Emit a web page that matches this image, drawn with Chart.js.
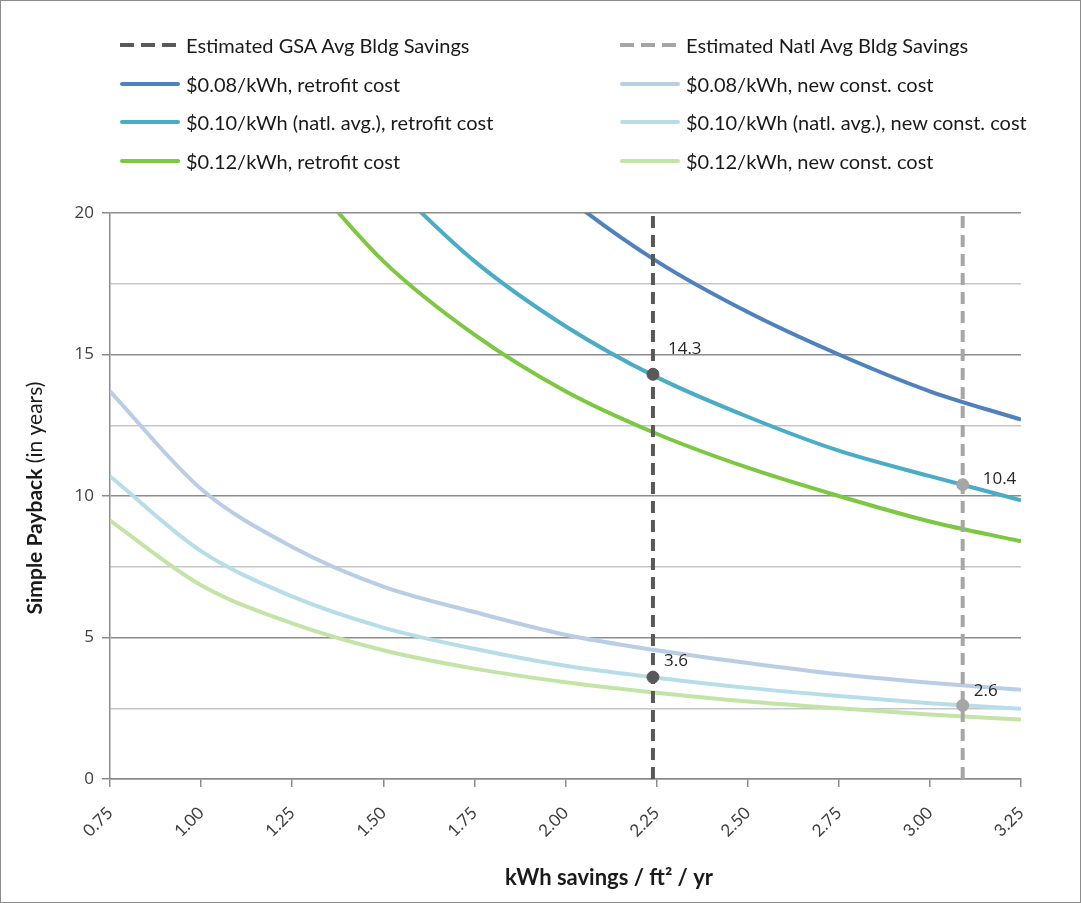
<!DOCTYPE html>
<html><head><meta charset="utf-8">
<script src="https://cdn.jsdelivr.net/npm/chart.js@4/dist/chart.umd.min.js"></script>
<style>
html,body{margin:0;padding:0;background:#fff;}
#wrap{position:relative;width:1081px;height:903px;}
#frame{position:absolute;left:0;top:0;width:1079px;height:901px;border:1px solid #8c8c8c;pointer-events:none;}
canvas{position:absolute;left:0;top:0;}
#legend{position:absolute;left:0;top:0;width:1081px;height:200px;font-family:Lato,"Liberation Sans",sans-serif;font-size:20px;color:#1a1a1a;}
.li{position:absolute;height:24px;line-height:24px;white-space:nowrap;}
.sw{position:absolute;left:0;top:10px;width:60px;height:4px;}
.tx{position:absolute;left:66px;top:0;}
</style></head>
<body>
<div id="wrap"><canvas id="c" width="1081" height="903"></canvas><div id="legend"></div><div id="frame"></div></div>
<script>
// ---- data ----
const kwh = [0.75, 1.00, 1.25, 1.50, 1.75, 2.00, 2.25, 2.50, 2.75, 3.00, 3.25];
const retrofit008 = [null, null, null, null, 23.5, 20.6, 18.3, 16.5, 15.0, 13.7, 12.7];
const retrofit010 = [null, null, null, 21.3, 18.3, 16.0, 14.2, 12.8, 11.6, 10.7, 9.85];
const retrofit012 = [null, null, 21.9, 18.3, 15.7, 13.7, 12.2, 11.0, 10.0, 9.1, 8.4];
const newConst008 = [13.7, 10.25, 8.2, 6.8, 5.9, 5.1, 4.55, 4.1, 3.7, 3.4, 3.15];
const newConst010 = [10.7, 8.05, 6.45, 5.35, 4.6, 4.0, 3.58, 3.22, 2.93, 2.68, 2.48];
const newConst012 = [9.13, 6.85, 5.5, 4.55, 3.9, 3.42, 3.05, 2.74, 2.5, 2.28, 2.1];
const gsaSavings = 2.24;
const natlSavings = 3.09;
const gsaPoints = [14.3, 3.6];
const natlPoints = [10.4, 2.6];
const yTickLabels = [0, 5, 10, 15, 20];
const seriesNames = [
  "Estimated GSA Avg Bldg Savings", "Estimated Natl Avg Bldg Savings",
  "$0.08/kWh, retrofit cost", "$0.08/kWh, new const. cost",
  "$0.10/kWh (natl. avg.), retrofit cost", "$0.10/kWh (natl. avg.), new const. cost",
  "$0.12/kWh, retrofit cost", "$0.12/kWh, new const. cost"
];
const xTitle = "kWh savings / ft\u00B2 / yr";
const yTitleBold = "Simple Payback";
const yTitleRest = " (in years)";

// ---- styles ----
const C = {
  gsa: "#595959", natl: "#a6a6a6",
  r08: "#4f81bd", n08: "#b9cde5",
  r10: "#4bacc6", n10: "#b7dee8",
  r12: "#7dc842", n12: "#c3e4a6"
};
const toXY = arr => kwh.map((x, i) => ({x: x, y: arr[i]})).filter(p => p.y !== null);
function curve(label, arr, color){
  return {type:'line', label, data: toXY(arr), borderColor: color, backgroundColor: color,
    borderWidth: 4, pointRadius: 0, cubicInterpolationMode: 'monotone', clip: 0, order: 5};
}
const datasets = [
  {type:'line', label: seriesNames[0], data:[{x:gsaSavings,y:0},{x:gsaSavings,y:20}], borderColor:C.gsa, borderWidth:4, borderDash:[12,7], pointRadius:0, order:2},
  {type:'line', label: seriesNames[1], data:[{x:natlSavings,y:0},{x:natlSavings,y:20}], borderColor:C.natl, borderWidth:4, borderDash:[12,7], pointRadius:0, order:2},
  curve(seriesNames[2], retrofit008, C.r08),
  curve(seriesNames[3], newConst008, C.n08),
  curve(seriesNames[4], retrofit010, C.r10),
  curve(seriesNames[5], newConst010, C.n10),
  curve(seriesNames[6], retrofit012, C.r12),
  curve(seriesNames[7], newConst012, C.n12),
  {type:'scatter', label:'gsaPts', data: gsaPoints.map(v=>({x:gsaSavings,y:v})), backgroundColor:C.gsa, borderColor:C.gsa, pointRadius:6, order:1},
  {type:'scatter', label:'natlPts', data: natlPoints.map(v=>({x:natlSavings,y:v})), backgroundColor:C.natl, borderColor:C.natl, pointRadius:6, order:1}
];

// HTML legend (2 columns)
const legendColors = [C.gsa, C.natl, C.r08, C.n08, C.r10, C.n10, C.r12, C.n12];
const lg = document.getElementById('legend');
seriesNames.forEach((name, i) => {
  const col = i % 2, row = Math.floor(i / 2);
  const d = document.createElement('div');
  d.className = 'li';
  d.style.left = (col ? 620 : 120) + 'px';
  d.style.top = (33 + row * 38.5) + 'px';
  const sw = document.createElement('div');
  sw.className = 'sw';
  if (i < 2) {
    sw.style.background = `repeating-linear-gradient(90deg, ${legendColors[i]} 0 14px, transparent 14px 21px)`;
  } else {
    sw.style.background = legendColors[i];
    sw.style.borderRadius = '2px';
  }
  const tx = document.createElement('span');
  tx.className = 'tx';
  tx.textContent = name;
  d.appendChild(sw); d.appendChild(tx);
  lg.appendChild(d);
});

const labelPlugin = {
  id: 'labels',
  afterDatasetsDraw(chart){
    const ctx = chart.ctx, xs = chart.scales.x, ys = chart.scales.y;
    ctx.save();
    ctx.font = '17px "Open Sans", "DejaVu Sans", sans-serif';
    ctx.fillStyle = '#262626';
    ctx.textBaseline = 'middle';
    ctx.textAlign = 'left';
    const offs = [[15,-25],[11,-16]];
    gsaPoints.forEach((v,i)=>{ ctx.fillText(v.toFixed(1), xs.getPixelForValue(gsaSavings)+offs[i][0], ys.getPixelForValue(v)+offs[i][1]); });
    const offs2 = [[20,-6],[11,-14]];
    natlPoints.forEach((v,i)=>{ ctx.fillText(v.toFixed(1), xs.getPixelForValue(natlSavings)+offs2[i][0], ys.getPixelForValue(v)+offs2[i][1]); });
    ctx.restore();
  },
  afterDraw(chart){
    const ctx = chart.ctx;
    ctx.save();
    ctx.fillStyle = '#1a1a1a';
    ctx.textBaseline = 'middle';
    const fb = 'bold 21px Lato, "Liberation Sans", sans-serif';
    const fr = '21px Lato, "Liberation Sans", sans-serif';
    ctx.font = fb; const wb = ctx.measureText(yTitleBold).width;
    ctx.font = fr; const wr = ctx.measureText(yTitleRest).width;
    ctx.translate(35, 498);
    ctx.rotate(-Math.PI/2);
    const start = -(wb + wr)/2;
    ctx.textAlign = 'left';
    ctx.font = fb; ctx.fillText(yTitleBold, start, 0);
    ctx.font = fr; ctx.fillText(yTitleRest, start + wb, 0);
    ctx.restore();
    ctx.save();
    ctx.fillStyle = '#1a1a1a';
    ctx.font = 'bold 22px Lato, "Liberation Sans", sans-serif';
    ctx.textAlign = 'center';
    ctx.textBaseline = 'middle';
    ctx.fillText(xTitle, 609, 878);
    ctx.restore();
  }
};

new Chart(document.getElementById('c'), {
  data: { datasets },
  options: {
    responsive: false,
    animation: false,
    layout: { padding: { left: 0, right: 60, top: 213, bottom: 0 } },
    plugins: { legend: { display: false }, tooltip: { enabled: false } },
    scales: {
      x: {
        type: 'linear', min: 0.75, max: 3.25,
        afterFit(s){ s.height = 124; },
        ticks: { stepSize: 0.25, autoSkip: false, minRotation: 45, maxRotation: 45,
          color: '#404040', font: { family: 'Lato, "Liberation Sans", sans-serif', size: 17 },
          padding: 16,
          callback: v => Number(v).toFixed(2) },
        grid: { drawOnChartArea: false, drawTicks: true, tickLength: 8, color: '#8c8c8c', lineWidth: 1.5 },
        border: { color: '#8c8c8c', width: 1.5 }
      },
      y: {
        min: 0, max: 20,
        afterFit(s){ s.width = 110; },
        ticks: { stepSize: 2.5, color: '#404040', padding: 8,
          font: { family: '"Open Sans", "DejaVu Sans", sans-serif', size: 17 },
          callback: v => (yTickLabels.includes(v) ? String(v) : '') },
        grid: {
          color: c => (yTickLabels.includes(c.tick.value) ? '#8c8c8c' : '#c6c6c6'),
          tickColor: c => (yTickLabels.includes(c.tick.value) ? '#8c8c8c' : 'rgba(0,0,0,0)'),
          lineWidth: 1.5, tickLength: 8
        },
        border: { color: '#8c8c8c', width: 1.5 }
      }
    }
  },
  plugins: [labelPlugin]
});
</script>
</body></html>
